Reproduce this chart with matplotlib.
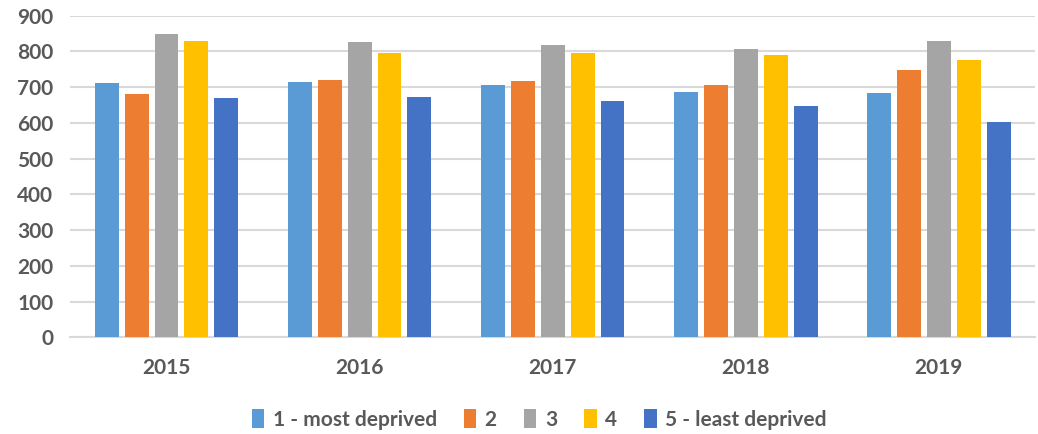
import matplotlib.pyplot as plt
import numpy as np

# data
years = ['2015', '2016', '2017', '2018', '2019']
labels = ['1 - most deprived', '2', '3', '4', '5 - least deprived']
q1 = [711, 714, 705, 686, 683]
q2 = [681, 719, 716, 706, 747]
q3 = [848, 826, 818, 808, 828]
q4 = [828, 795, 795, 790, 775]
q5 = [669, 673, 661, 647, 603]
colors = ['#5B9BD5', '#ED7D31', '#A5A5A5', '#FFC000', '#4472C4']

plt.rcParams['font.family'] = ['Lato', 'DejaVu Sans']

fig = plt.figure(figsize=(10.38, 4.34), dpi=100)
ax = fig.add_axes([0.0674, 0.2224, 0.93, 0.7414])

x = np.arange(len(years))
step = 0.155
width = 0.124
for i, (vals, lab, col) in enumerate(zip([q1, q2, q3, q4, q5], labels, colors)):
    ax.bar(x + (i - 2) * step, vals, width, color=col, label=lab, zorder=3)

ax.set_xlim(-0.5, 4.5)
ax.set_ylim(0, 900)
ax.set_yticks(range(0, 901, 100))
ax.set_xticks(x)
ax.set_xticklabels(years)

# gridlines and spines
ax.grid(axis='y', color='#D9D9D9', linewidth=1.5, zorder=0)
for s in ['top', 'right', 'left']:
    ax.spines[s].set_visible(False)
ax.spines['bottom'].set_color('#D9D9D9')
ax.spines['bottom'].set_linewidth(1.5)
ax.tick_params(length=0, labelsize=15, labelcolor='#595959')
ax.tick_params(axis='x', pad=15)
ax.tick_params(axis='y', pad=12)
for t in ax.get_xticklabels() + ax.get_yticklabels():
    t.set_fontweight('bold')

leg = ax.legend(loc='center', bbox_to_anchor=(0.486, -0.255), ncol=5, frameon=False,
                prop={'size': 15, 'weight': 'bold'}, handlelength=0.6, handleheight=1.0,
                handletextpad=0.4, columnspacing=1.3)
for t in leg.get_texts():
    t.set_color('#595959')

fig.savefig('out.png', dpi=100)
